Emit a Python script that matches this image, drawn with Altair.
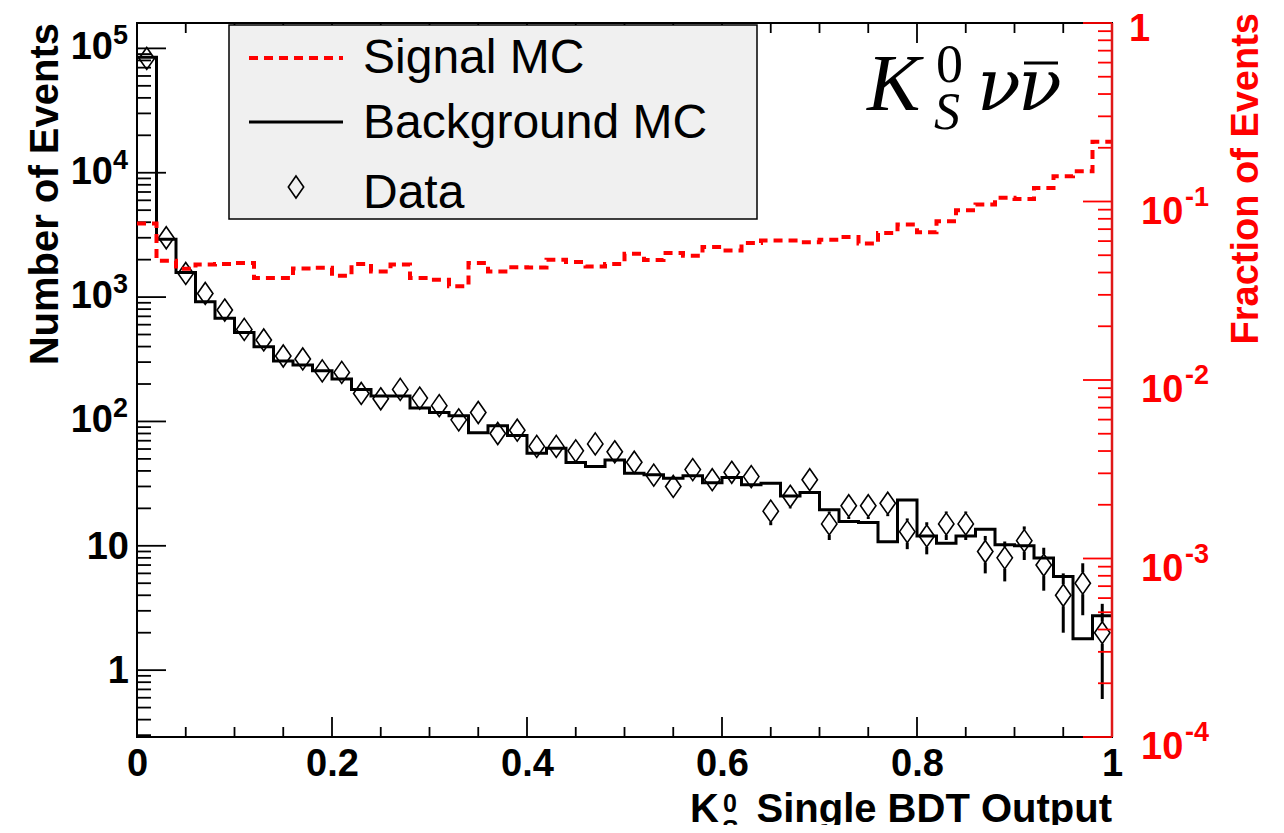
import altair as alt
import pandas as pd

# ---------------- data ----------------
bin_low = [0.00, 0.02, 0.04, 0.06, 0.08, 0.10, 0.12, 0.14, 0.16, 0.18,
           0.20, 0.22, 0.24, 0.26, 0.28, 0.30, 0.32, 0.34, 0.36, 0.38,
           0.40, 0.42, 0.44, 0.46, 0.48, 0.50, 0.52, 0.54, 0.56, 0.58,
           0.60, 0.62, 0.64, 0.66, 0.68, 0.70, 0.72, 0.74, 0.76, 0.78,
           0.80, 0.82, 0.84, 0.86, 0.88, 0.90, 0.92, 0.94, 0.96, 0.98]

bkg_mc = [85000, 2920, 1580, 917, 675, 520, 399, 306, 284, 256,
          219, 181, 160, 160, 128, 118, 111, 81, 92.5, 77,
          55.6, 61, 46.7, 43.4, 49, 38.4, 37.2, 35, 36.5, 32.2,
          35.4, 30.9, 31.9, 25.2, 26.8, 19.5, 15.7, 15.4, 10.8, 23.4,
          12.0, 10.5, 12.0, 13.6, 10.2, 10.0, 7.96, 5.67, 1.79, 2.74]

data_n = [83000, 3000, 1550, 1070, 787, 550, 452, 336, 318, 255,
          248, 168, 152, 181, 154, 134, 103, 118, 80, 85,
          63, 63, 58, 66, 57, 47, 37, 30, 41, 34,
          39, 36, 19, 25, 34, 15, 21, 21, 22, 13,
          12, 15, 15, 9, 8, 11, 7, 4, 5, 2]

sig_mc = [0.0752, 0.0466, 0.0420, 0.0443, 0.0447, 0.0453, 0.0373, 0.0373, 0.0421, 0.0425,
          0.0384, 0.0447, 0.0406, 0.0443, 0.0373, 0.0365, 0.0335, 0.0453, 0.0406, 0.0428,
          0.0427, 0.0472, 0.0458, 0.0433, 0.0447, 0.0510, 0.0470, 0.0515, 0.0497, 0.0556,
          0.0531, 0.0586, 0.0604, 0.0604, 0.0591, 0.0611, 0.0633, 0.0581, 0.0667, 0.0743,
          0.0672, 0.0775, 0.0893, 0.0961, 0.1048, 0.1033, 0.1192, 0.1385, 0.1477, 0.2160]

# tick values and tick labels
x_major = [0, 0.2, 0.4, 0.6, 0.8, 1.0]
x_minor = [0.05, 0.10, 0.15, 0.25, 0.30, 0.35, 0.45, 0.50, 0.55,
           0.65, 0.70, 0.75, 0.85, 0.90, 0.95]
left_plain = [1, 10]
left_plain_text = ["1", "10"]
left_pow = [100, 1000, 10000, 100000]
left_pow_exp = ["2", "3", "4", "5"]
left_major = left_plain + left_pow
left_minor = [k * 10.0 ** d for d in range(-1, 5) for k in range(2, 10) if k * 10.0 ** d > 0.29]
right_plain = [1]
right_pow = [1e-4, 1e-3, 1e-2, 1e-1]
right_pow_exp = ["-4", "-3", "-2", "-1"]
right_major = right_pow + right_plain
right_minor = [k * 10.0 ** d for d in range(-4, 0) for k in range(2, 10)]

# ---------------- styling ----------------
W, H = 975, 714
FONT = "Liberation Sans"
SERIF = "Liberation Serif"
RED = "#ff0000"
DIAMOND = "M0,-1L0.7,0L0,1L-0.7,0Z"
LBL = 38
EXP = 27

hist = pd.DataFrame({"x": bin_low + [1.0],
                     "bkg": bkg_mc + [bkg_mc[-1]],
                     "sig": sig_mc + [sig_mc[-1]]})
pts = pd.DataFrame({"x": [round(b + 0.01, 3) for b in bin_low], "n": data_n})

xs = alt.Scale(domain=[0, 1], nice=False, zero=False)
yl = alt.Scale(type="log", domain=[0.29, 1.6e5], nice=False)
yr = alt.Scale(type="log", domain=[1e-4, 1], nice=False)

x_axis = alt.Axis(values=x_major, format="~g", ticks=False, domain=False, grid=False,
                  labelFont=FONT, labelFontSize=LBL, labelFontWeight="bold", labelColor="black",
                  labelPadding=8, labelFlush=False, labelOverlap=False, title=None)

X = alt.X("x:Q", scale=xs, axis=x_axis)
YL = lambda f: alt.Y(f, scale=yl, axis=None)
YR = lambda f: alt.Y(f, scale=yr, axis=None)

one = alt.Data(values=[{}])


def txt(s, x, y, size, color="black", font=FONT, weight="normal", style="normal",
        align="left", angle=0):
    return alt.Chart(one).mark_text(text=s, align=align, baseline="alphabetic", font=font,
                                    fontSize=size, fontWeight=weight, fontStyle=style,
                                    angle=angle, color=color).encode(x=alt.value(x), y=alt.value(y))


def lbl(df, field, yenc, x, size, color, align, dy):
    return alt.Chart(df).mark_text(align=align, baseline="middle", font=FONT, fontSize=size,
                                   fontWeight="bold", color=color, dy=dy).encode(
        x=alt.value(x), y=yenc, text=alt.Text(field))


# ---------------- left (number of events) group ----------------
bkg_line = alt.Chart(hist).mark_line(interpolate="step-after", color="black", strokeWidth=3).encode(
    x=X, y=YL("bkg:Q"))

pbase = alt.Chart(pts).transform_calculate(
    hi="datum.n + sqrt(datum.n)", lo="datum.n - sqrt(datum.n)",
    mt="datum.n * 1.2256", mb="datum.n / 1.2256"
).transform_calculate(up="max(datum.hi, datum.mt)", dn="min(datum.lo, datum.mb)")

err_up = pbase.mark_rule(color="black", strokeWidth=3).encode(x=X, y=YL("up:Q"), y2="mt:Q")
err_dn = pbase.mark_rule(color="black", strokeWidth=3).encode(x=X, y=YL("mb:Q"), y2="dn:Q")
diam = pbase.mark_point(shape=DIAMOND, size=484, filled=False, color="black",
                        strokeWidth=1.6, opacity=1).encode(x=X, y=YL("n:Q"))

XT = lambda: alt.X("v:Q", scale=xs, axis=x_axis)
lmaj = alt.Chart(pd.DataFrame({"v": left_major})).mark_rule(color="black", strokeWidth=1.8).encode(
    x=alt.value(0), x2=alt.value(29), y=YL("v:Q"))
lmin = alt.Chart(pd.DataFrame({"v": left_minor})).mark_rule(color="black", strokeWidth=1.8).encode(
    x=alt.value(0), x2=alt.value(14), y=YL("v:Q"))
bmaj = alt.Chart(pd.DataFrame({"v": x_major})).mark_rule(color="black", strokeWidth=1.8).encode(
    x=XT(), y=alt.value(H), y2=alt.value(H - 20))
bmin = alt.Chart(pd.DataFrame({"v": x_minor})).mark_rule(color="black", strokeWidth=1.8).encode(
    x=XT(), y=alt.value(H), y2=alt.value(H - 10))
tmaj = alt.Chart(pd.DataFrame({"v": x_major})).mark_rule(color="black", strokeWidth=1.8).encode(
    x=XT(), y=alt.value(0), y2=alt.value(20))
tmin = alt.Chart(pd.DataFrame({"v": x_minor})).mark_rule(color="black", strokeWidth=1.8).encode(
    x=XT(), y=alt.value(0), y2=alt.value(10))

# left tick labels
lp_df = pd.DataFrame({"v": left_plain, "t": left_plain_text})
lw_df = pd.DataFrame({"v": left_pow, "t": ["10"] * len(left_pow), "e": left_pow_exp})
ll_plain = lbl(lp_df, "t:N", YL("v:Q"), -8, LBL, "black", "right", 2)
ll_main = lbl(lw_df, "t:N", YL("v:Q"), -24, LBL, "black", "right", 0)
ll_exp = lbl(lw_df, "e:N", YL("v:Q"), -24, EXP, "black", "left", -12)

# legend box
leg_box = alt.Chart(one).mark_rect(fill="#f0f0f0", stroke="black", strokeWidth=1.5).encode(
    x=alt.value(92), x2=alt.value(620), y=alt.value(2), y2=alt.value(196))
leg_sig = alt.Chart(one).mark_rule(color=RED, strokeWidth=4, strokeDash=[9, 6]).encode(
    x=alt.value(112), x2=alt.value(206), y=alt.value(35))
leg_bkg = alt.Chart(one).mark_rule(color="black", strokeWidth=3).encode(
    x=alt.value(112), x2=alt.value(206), y=alt.value(99))
leg_dat = alt.Chart(one).mark_point(shape=DIAMOND, size=484, filled=False, color="black",
                                    strokeWidth=1.6, opacity=1).encode(x=alt.value(159), y=alt.value(164))
leg_t1 = txt("Signal MC", 226, 50, 48)
leg_t2 = txt("Background MC", 226, 115, 48)
leg_t3 = txt("Data", 226, 185, 48)

# physics label
f_K = txt("K", 730, 87, 80, font=SERIF, style="italic")
f_0 = txt("0", 799, 59, 54, font=SERIF)
f_S = txt("S", 797, 106, 52, font=SERIF, style="italic")
f_nu1 = txt("ν", 840, 87, 72, font="DejaVu Serif", style="italic")
f_nu2 = txt("ν", 881, 87, 72, font="DejaVu Serif", style="italic")
f_bar = alt.Chart(one).mark_rule(color="black", strokeWidth=3).encode(
    x=alt.value(887), x2=alt.value(921), y=alt.value(40))

# axis titles
xt_K = txt("K", 553, 799, 40, weight="bold")
xt_0 = txt("0", 586, 789, 25, weight="bold")
xt_S = txt("S", 585, 815, 25, weight="bold")
xt_main = txt("Single BDT Output", W, 799, 40, weight="bold", align="right")
yl_title = txt("Number of Events", -79, 0, 40, weight="bold", align="right", angle=270)

left_group = alt.layer(bkg_line, err_up, err_dn, diam, lmaj, lmin, bmaj, bmin, tmaj, tmin,
                       ll_plain, ll_main, ll_exp,
                       leg_box, leg_sig, leg_bkg, leg_dat, leg_t1, leg_t2, leg_t3,
                       f_K, f_0, f_S, f_nu1, f_nu2, f_bar,
                       xt_K, xt_0, xt_S, xt_main, yl_title)

# ---------------- right (fraction of events) group ----------------
sig_line = alt.Chart(hist).mark_line(interpolate="step-after", color=RED, strokeWidth=4,
                                     strokeDash=[9, 6]).encode(x=X, y=YR("sig:Q"))
rmaj = alt.Chart(pd.DataFrame({"v": right_major})).mark_rule(color=RED, strokeWidth=1.8).encode(
    x=alt.value(W - 29), x2=alt.value(W), y=YR("v:Q"))
rmin = alt.Chart(pd.DataFrame({"v": right_minor})).mark_rule(color=RED, strokeWidth=1.8).encode(
    x=alt.value(W - 14), x2=alt.value(W), y=YR("v:Q"))
rframe = alt.Chart(one).mark_rule(color="#e01818", strokeWidth=2.5).encode(
    x=alt.value(W), y=alt.value(0), y2=alt.value(H))

rp_df = pd.DataFrame({"v": right_plain, "t": ["1"]})
rw_df = pd.DataFrame({"v": right_pow, "t": ["10"] * len(right_pow), "e": right_pow_exp})
rl_plain = lbl(rp_df, "t:N", YR("v:Q"), W + 17, LBL, RED, "left", 7)
rl_main = lbl(rw_df, "t:N", YR("v:Q"), W + 29, LBL, RED, "left", 11)
rl_exp = lbl(rw_df, "e:N", YR("v:Q"), W + 73, EXP, RED, "left", -4)
yr_title = txt("Fraction of Events", W + 146, -10, 38, color=RED, weight="bold",
               align="right", angle=270)

right_group = alt.layer(sig_line, rmaj, rmin, rframe, rl_plain, rl_main, rl_exp, yr_title)

chart = alt.layer(left_group, right_group).resolve_scale(y="independent").properties(
    width=W, height=H,
    autosize=alt.AutoSizeParams(type="none"),
    padding={"left": 129, "top": 15, "right": 164, "bottom": 88},
).configure(background="white").configure_view(stroke="black", strokeWidth=2)

chart.save("out.html", embed_options={"renderer": "svg", "actions": False})
